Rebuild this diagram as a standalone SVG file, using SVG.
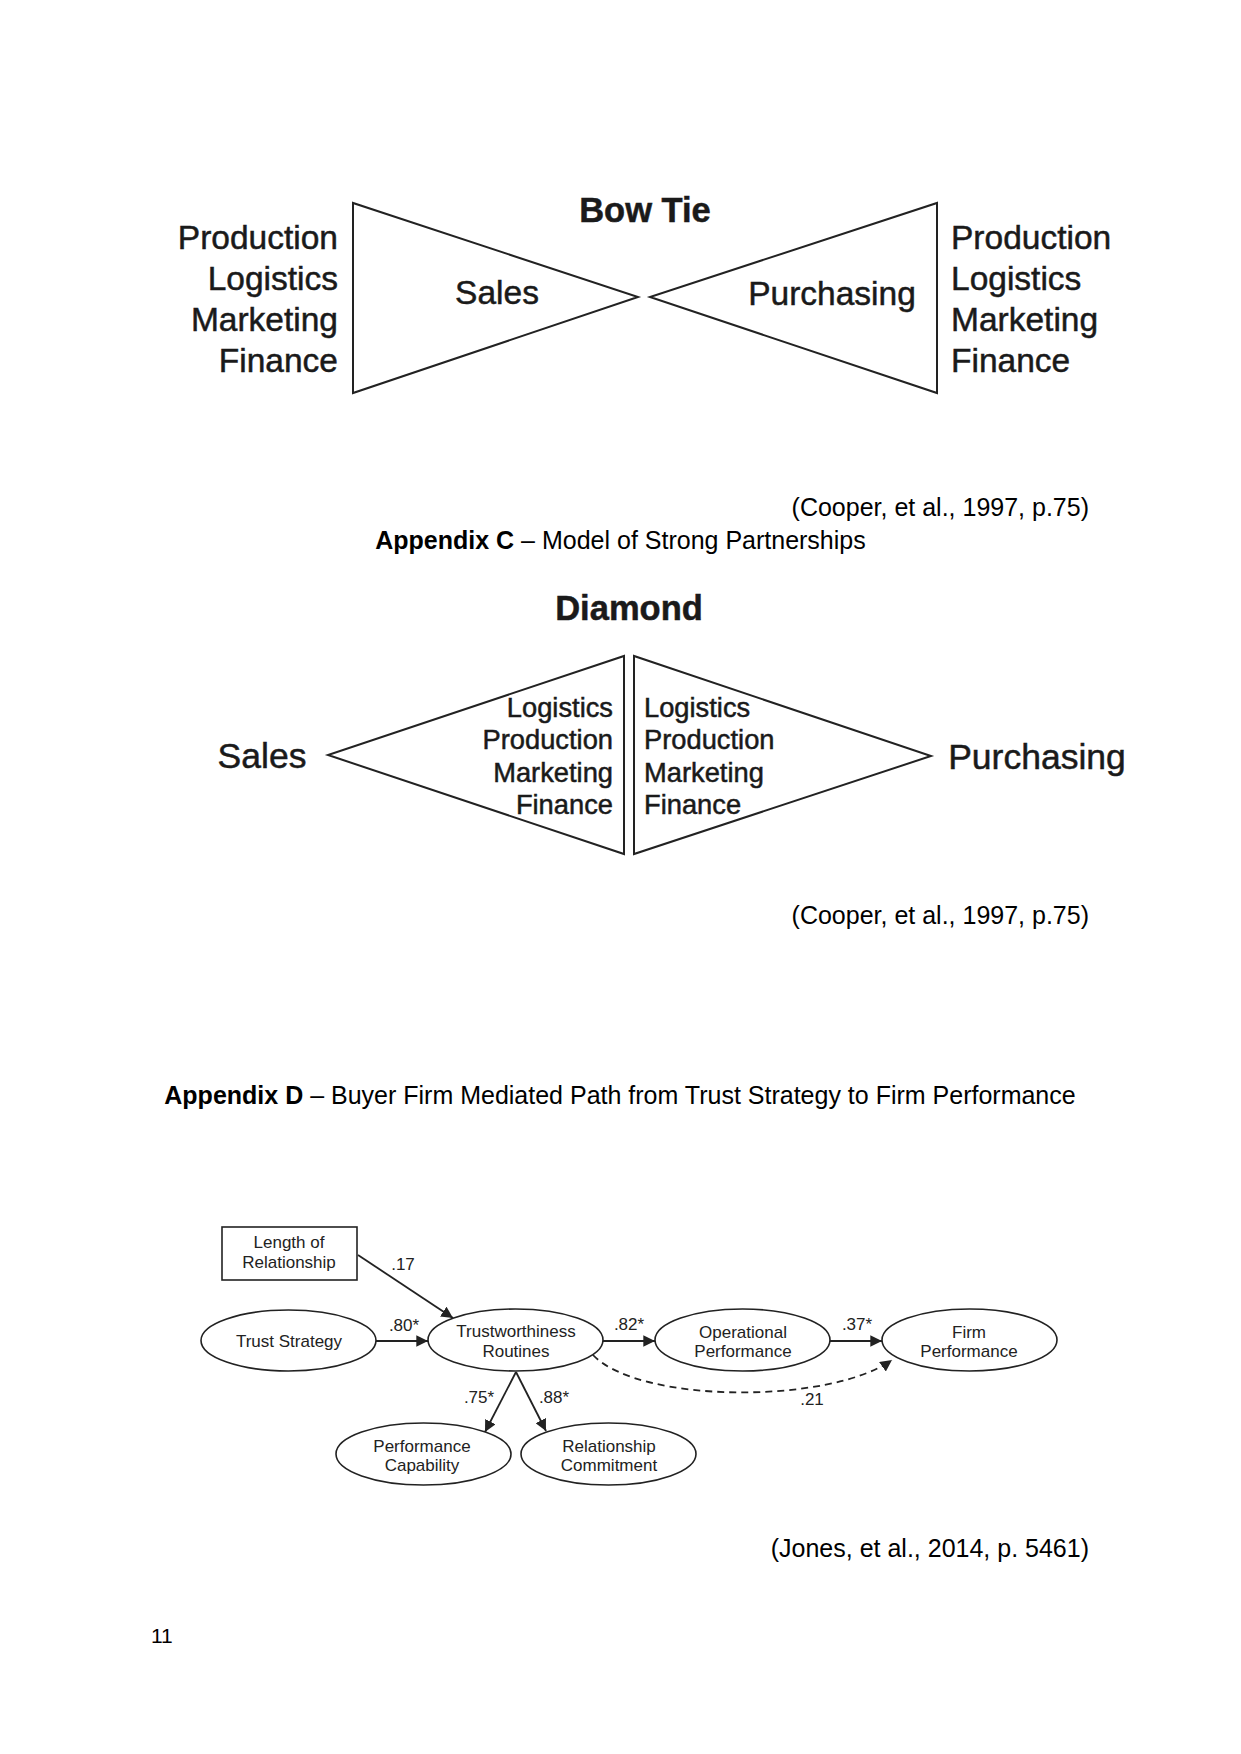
<svg xmlns="http://www.w3.org/2000/svg" width="1241" height="1754" viewBox="0 0 1241 1754">
<style>
  .body { font-family: "Liberation Sans", Arial, sans-serif; font-size: 25px; fill: #000; }
  .fig { font-family: "Liberation Sans", Arial, sans-serif; fill: #1a1a1a; stroke: #1a1a1a; stroke-width: 0.5; }
  .big { font-size: 33.5px; }
  .mid { font-size: 27.3px; }
  .ttl { font-size: 34.5px; font-weight: bold; }
  .tri { fill: #fff; stroke: #222; stroke-width: 2; stroke-linejoin: miter; }
  .sm { font-family: "Liberation Sans", Arial, sans-serif; font-size: 17px; fill: #222; text-anchor: middle; }
  .node { fill: #fff; stroke: #222; stroke-width: 1.6; }
  .edge { stroke: #222; stroke-width: 1.8; fill: none; marker-end: url(#ah); }
  .dash { stroke-dasharray: 7 5; }
</style>
<defs>
  <marker id="ah" viewBox="0 0 10 10" refX="10" refY="5" markerWidth="6.5" markerHeight="6.5" markerUnits="strokeWidth" orient="auto">
    <path d="M0,0 L10,5 L0,10 z" fill="#222"/>
  </marker>
</defs>
<rect width="1241" height="1754" fill="#fff"/>

<!-- Bow Tie -->
<g id="bowtie">
  <text class="fig ttl" x="645" y="222" text-anchor="middle">Bow Tie</text>
  <polygon class="tri" points="353,203 353,393 638,297"/>
  <polygon class="tri" points="937,203 937,393 650,297"/>
  <text class="fig big" x="497" y="304" text-anchor="middle">Sales</text>
  <text class="fig big" x="832" y="305" text-anchor="middle">Purchasing</text>
  <g class="fig big" text-anchor="end">
    <text x="338" y="249">Production</text>
    <text x="338" y="290">Logistics</text>
    <text x="338" y="331">Marketing</text>
    <text x="338" y="372">Finance</text>
  </g>
  <g class="fig big" text-anchor="start">
    <text x="951" y="249">Production</text>
    <text x="951" y="290">Logistics</text>
    <text x="951" y="331">Marketing</text>
    <text x="951" y="372">Finance</text>
  </g>
</g>

<text class="body" x="1089" y="516" text-anchor="end">(Cooper, et al., 1997, p.75)</text>
<text class="body" x="620.5" y="549" text-anchor="middle"><tspan font-weight="bold">Appendix C</tspan> – Model of Strong Partnerships</text>

<!-- Diamond -->
<g id="diamond">
  <text class="fig ttl" x="629" y="620" text-anchor="middle">Diamond</text>
  <polygon class="tri" points="624,656 624,854 328,755"/>
  <polygon class="tri" points="634,656 634,854 931,756"/>
  <text class="fig" x="262" y="768" text-anchor="middle" font-size="35.5">Sales</text>
  <text class="fig" x="1037" y="769" text-anchor="middle" font-size="35.5">Purchasing</text>
  <g class="fig mid" text-anchor="end">
    <text x="613" y="717">Logistics</text>
    <text x="613" y="749">Production</text>
    <text x="613" y="782">Marketing</text>
    <text x="613" y="814">Finance</text>
  </g>
  <g class="fig mid" text-anchor="start">
    <text x="644" y="717">Logistics</text>
    <text x="644" y="749">Production</text>
    <text x="644" y="782">Marketing</text>
    <text x="644" y="814">Finance</text>
  </g>
</g>

<text class="body" x="1089" y="924" text-anchor="end">(Cooper, et al., 1997, p.75)</text>

<text class="body" x="620" y="1104" text-anchor="middle"><tspan font-weight="bold">Appendix D</tspan> – Buyer Firm Mediated Path from Trust Strategy to Firm Performance</text>

<!-- Appendix D diagram -->
<g id="connectors">
  <path class="edge" d="M358,1255 L453,1318"/>
  <path class="edge" d="M376,1341 L428,1341"/>
  <path class="edge" d="M516,1372 L485,1432"/>
  <path class="edge" d="M516,1372 L546,1431"/>
  <path class="edge" d="M603,1341 L655,1341"/>
  <path class="edge" d="M830,1341 L882,1341"/>
  <path class="edge dash" d="M593,1355 C640,1404 830,1404 892,1360"/>
  <text class="sm" x="403" y="1270">.17</text>
  <text class="sm" x="404" y="1331">.80*</text>
  <text class="sm" x="479" y="1403">.75*</text>
  <text class="sm" x="554" y="1403">.88*</text>
  <text class="sm" x="629" y="1330">.82*</text>
  <text class="sm" x="857" y="1330">.37*</text>
  <text class="sm" x="812" y="1405">.21</text>
</g>

<g id="n-length">
  <rect class="node" x="222" y="1227" width="135" height="53"/>
  <text class="sm" x="289" y="1248">Length of</text>
  <text class="sm" x="289" y="1268">Relationship</text>
</g>
<g id="n-trust">
  <ellipse class="node" cx="288.5" cy="1340.5" rx="87.5" ry="30.5"/>
  <text class="sm" x="289" y="1347">Trust Strategy</text>
</g>
<g id="n-trustworthiness">
  <ellipse class="node" cx="515.5" cy="1340" rx="87.5" ry="31"/>
  <text class="sm" x="516" y="1337">Trustworthiness</text>
  <text class="sm" x="516" y="1357">Routines</text>
</g>
<g id="n-perfcap">
  <ellipse class="node" cx="423.5" cy="1454" rx="87.5" ry="31"/>
  <text class="sm" x="422" y="1452">Performance</text>
  <text class="sm" x="422" y="1471">Capability</text>
</g>
<g id="n-relcom">
  <ellipse class="node" cx="608.5" cy="1454" rx="87.5" ry="31"/>
  <text class="sm" x="609" y="1452">Relationship</text>
  <text class="sm" x="609" y="1471">Commitment</text>
</g>
<g id="n-operational">
  <ellipse class="node" cx="742.5" cy="1340" rx="87.5" ry="31"/>
  <text class="sm" x="743" y="1338">Operational</text>
  <text class="sm" x="743" y="1357">Performance</text>
</g>
<g id="n-firm">
  <ellipse class="node" cx="969.5" cy="1340" rx="87.5" ry="31"/>
  <text class="sm" x="969" y="1338">Firm</text>
  <text class="sm" x="969" y="1357">Performance</text>
</g>

<text class="body" x="1089" y="1557" text-anchor="end">(Jones, et al., 2014, p. 5461)</text>
<text x="151" y="1643" font-family="'Liberation Sans', Arial, sans-serif" font-size="21" fill="#000">11</text>
</svg>
